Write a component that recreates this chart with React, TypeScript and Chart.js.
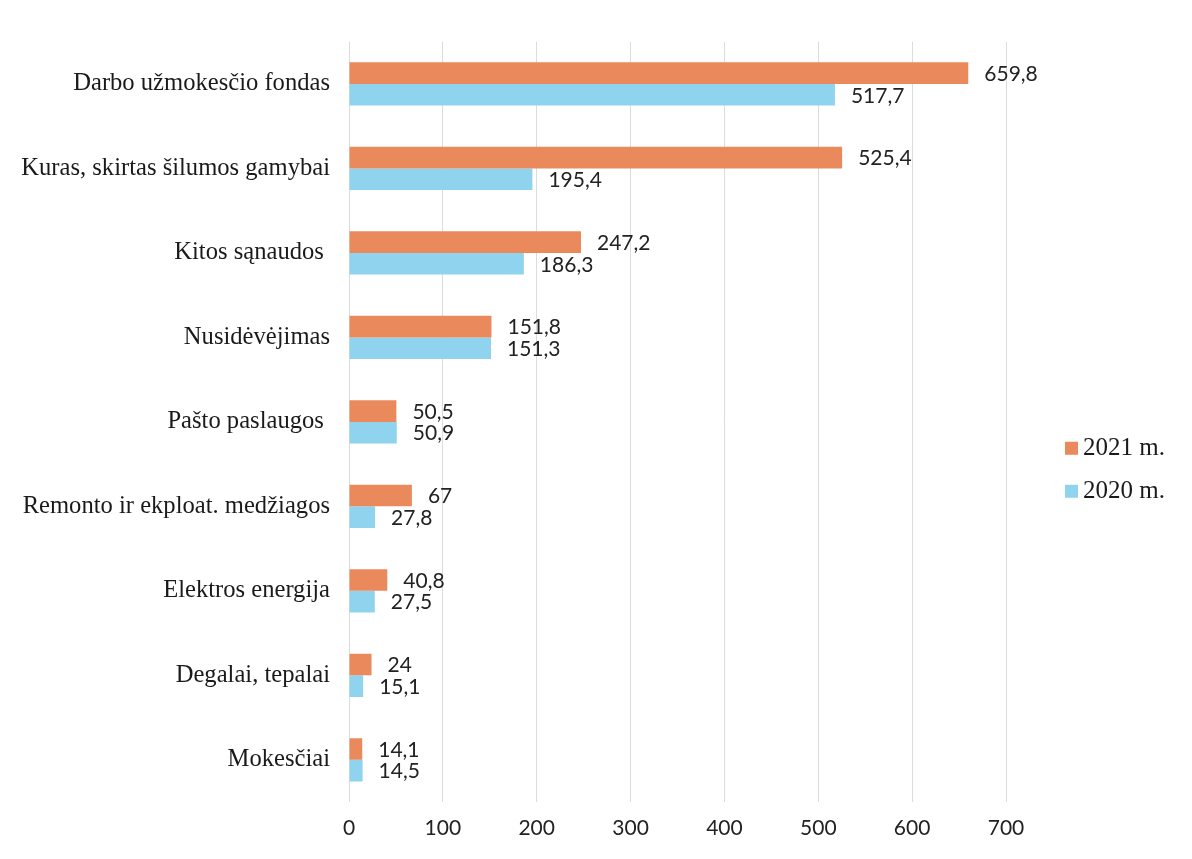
import React, { useEffect, useRef } from "react";
import { Chart, registerables } from "chart.js";

Chart.register(...registerables);

const categories = [
  "Darbo užmokesčio fondas",
  "Kuras, skirtas šilumos gamybai",
  "Kitos sąnaudos ",
  "Nusidėvėjimas",
  "Pašto paslaugos ",
  "Remonto ir ekploat. medžiagos",
  "Elektros energija",
  "Degalai, tepalai",
  "Mokesčiai",
];
const values2021 = [659.8, 525.4, 247.2, 151.8, 50.5, 67, 40.8, 24, 14.1];
const values2020 = [517.7, 195.4, 186.3, 151.3, 50.9, 27.8, 27.5, 15.1, 14.5];
const seriesLabels = ["2021 m.", "2020 m."];
const seriesColors = ["#EA8A5C", "#8FD3EE"];
const xMin = 0;
const xMax = 700;
const xStep = 100;

const fmt = (v: number) => String(v).replace(".", ",");

const valueLabelPlugin = {
  id: "valueLabels",
  afterDatasetsDraw(chart: any) {
    const ctx = chart.ctx;
    ctx.save();
    ctx.font = "21px Lato";
    ctx.fillStyle = "#222222";
    ctx.textAlign = "left";
    ctx.textBaseline = "middle";
    chart.data.datasets.forEach((ds: any, di: number) => {
      const meta = chart.getDatasetMeta(di);
      meta.data.forEach((el: any, i: number) => {
        ctx.fillText(fmt(ds.data[i]), el.x + 16, el.y + 1);
      });
    });
    ctx.restore();
  },
};

const legendPlugin = {
  id: "customLegend",
  afterDraw(chart: any) {
    const ctx = chart.ctx;
    const area = chart.chartArea;
    ctx.save();
    ctx.font = "25px 'Liberation Serif'";
    ctx.textBaseline = "middle";
    ctx.textAlign = "left";
    chart.data.datasets.forEach((ds: any, i: number) => {
      const cy = area.top + 406 + i * 43;
      const bx = area.right + 59;
      ctx.fillStyle = ds.backgroundColor;
      ctx.fillRect(bx, cy - 6, 13, 13);
      ctx.fillStyle = "#1a1a1a";
      ctx.fillText(ds.label, bx + 18, cy + 1);
    });
    ctx.restore();
  },
};

export default function App() {
  const canvasRef = useRef<HTMLCanvasElement | null>(null);

  useEffect(() => {
    const canvas = canvasRef.current;
    if (!canvas) return;
    const chart = new Chart(canvas, {
      type: "bar",
      data: {
        labels: categories,
        datasets: [
          {
            label: seriesLabels[0],
            data: values2021,
            backgroundColor: seriesColors[0],
            borderWidth: 0,
            categoryPercentage: 0.512,
            barPercentage: 1,
          },
          {
            label: seriesLabels[1],
            data: values2020,
            backgroundColor: seriesColors[1],
            borderWidth: 0,
            categoryPercentage: 0.512,
            barPercentage: 1,
          },
        ],
      },
      options: {
        indexAxis: "y",
        responsive: false,
        animation: false,
        layout: { padding: { top: 33, right: 178, left: 0, bottom: 0 } },
        plugins: {
          legend: { display: false },
          tooltip: { enabled: false },
        },
        scales: {
          x: {
            min: xMin,
            max: xMax,
            ticks: {
              stepSize: xStep,
              font: { family: "Lato", size: 21 },
              color: "#222222",
              padding: 14,
            },
            grid: { color: "#dcdcdc", lineWidth: 1, drawTicks: false },
            border: { display: false },
            afterFit: (scale: any) => {
              scale.height = 49;
            },
          },
          y: {
            ticks: {
              font: { family: "'Liberation Serif'", size: 24.6 },
              color: "#1a1a1a",
              padding: 19,
              autoSkip: false,
            },
            grid: { display: false, drawTicks: false },
            border: { display: false },
            afterFit: (scale: any) => {
              scale.width = 341;
            },
          },
        },
      },
      plugins: [valueLabelPlugin, legendPlugin],
    });
    return () => chart.destroy();
  }, []);

  return (
    <div style={{ width: 1176, height: 843, background: "#ffffff" }}>
      <canvas ref={canvasRef} width={1176} height={843} style={{ display: "block" }} />
    </div>
  );
}
